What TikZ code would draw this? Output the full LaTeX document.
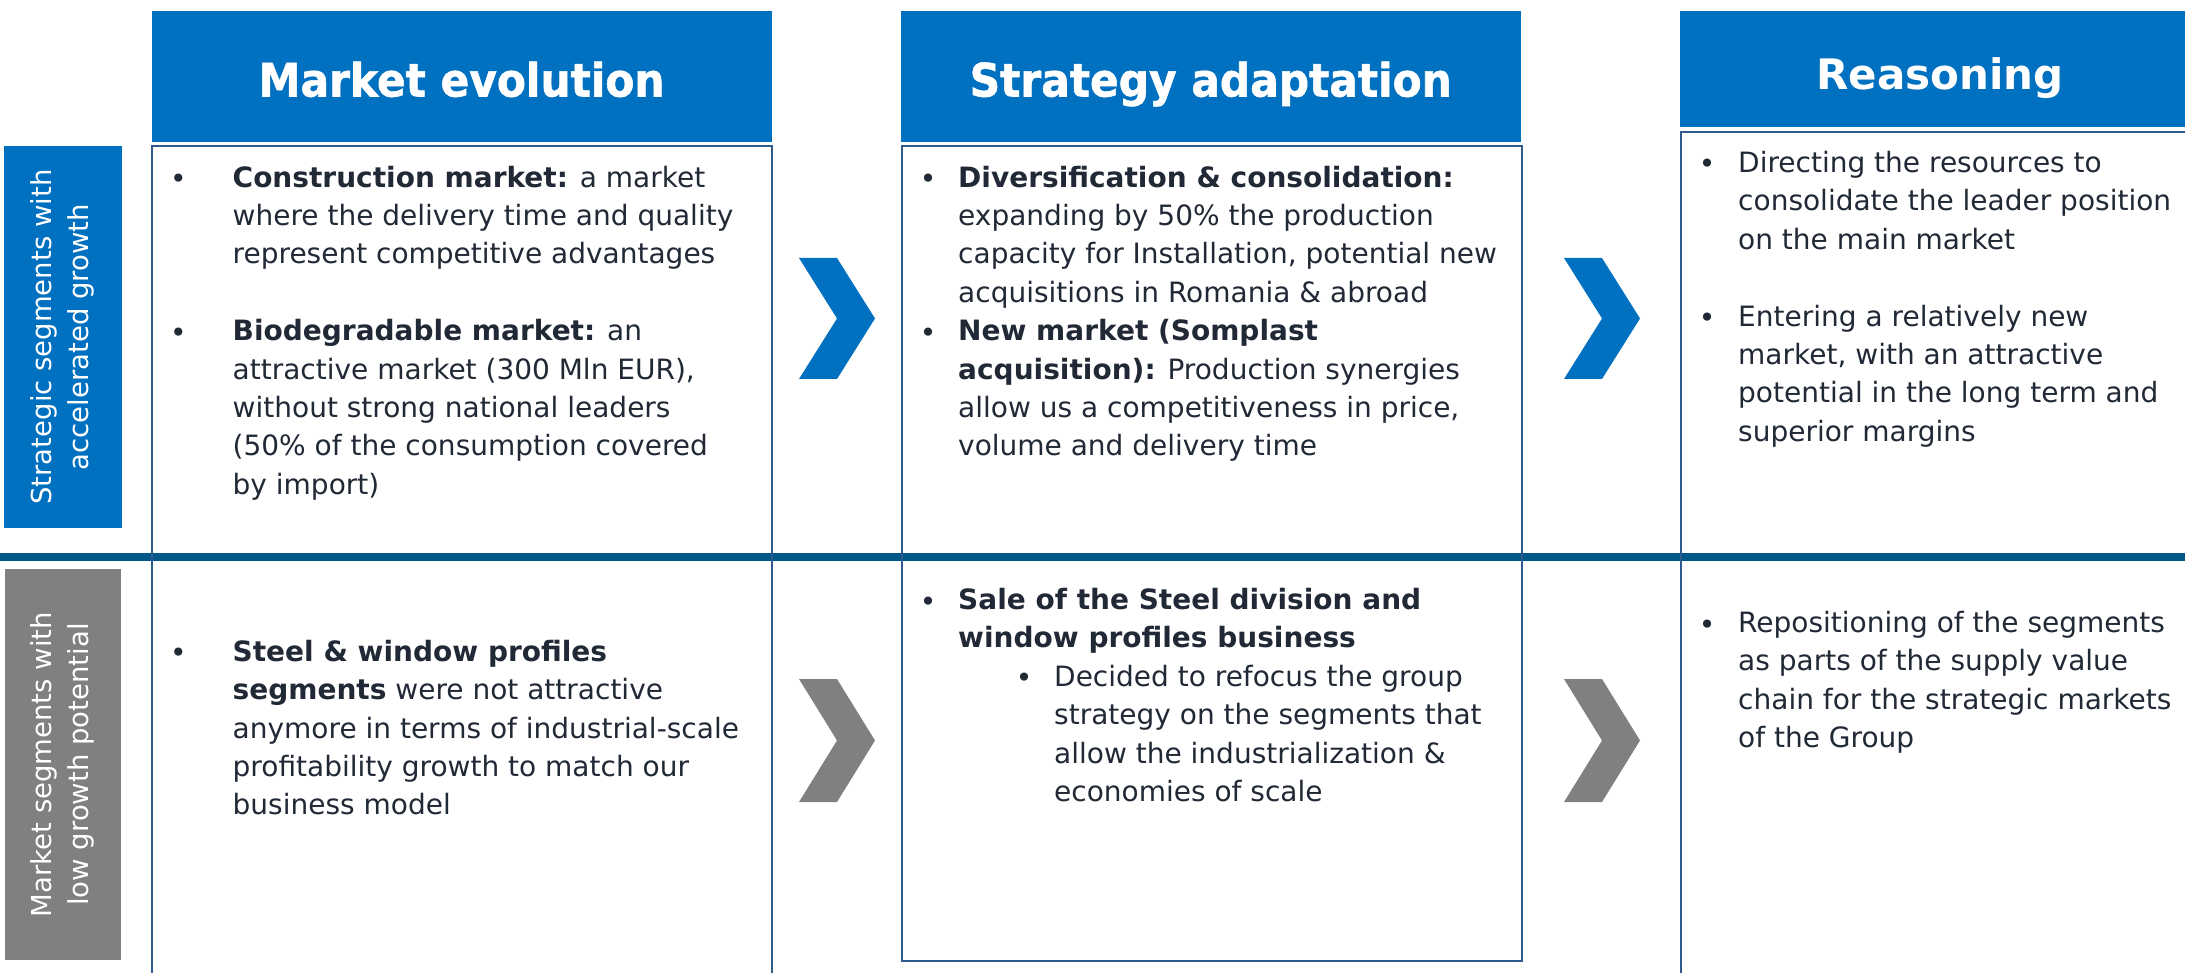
\documentclass[tikz,border=0pt]{standalone}
\usepackage{fontspec}
\setmainfont{DejaVu Sans}
\newfontfamily\headfont{DejaVu Sans}[FakeStretch=0.92, FakeBold=1.2]
\usetikzlibrary{positioning}
\definecolor{headblue}{RGB}{0,112,192}
\definecolor{rulecol}{RGB}{0,88,138}
\definecolor{boxcol}{RGB}{47,90,140}
\definecolor{chevgray}{RGB}{128,128,128}
\definecolor{txt}{RGB}{33,41,54}

\begin{document}
\begin{tikzpicture}[x=1pt, y=-1pt,
    head/.style={fill=headblue, text=white, inner sep=0pt,
      font=\headfont\bfseries\fontsize{46}{50}\selectfont, text height=40pt, text depth=0pt},
    side/.style={rotate=90, text=white, align=center, inner sep=0pt,
      font=\fontsize{27.5}{37}\selectfont},
    para/.style={anchor=north west, yshift=17.9pt, inner sep=0pt, align=left, text=txt,
      font=\fontsize{28}{38.4}\selectfont, execute at begin node={\rule{0pt}{26.9pt}}},
    dot/.style={anchor=base, yshift=-5pt, inner sep=0pt, text=txt, font=\fontsize{28}{38.4}\selectfont},
    boxline/.style={draw=boxcol, line width=2pt}]
    \useasboundingbox (0,0) rectangle (2185,973);
    \fill[white] (0,0) rectangle (2185,973);

    % Row divider
    \fill[rulecol] (0,553) rectangle (2185,561);
    % Column boxes
    \draw[boxline] (151.5,146) rectangle (771.5,990);
    \draw[boxline] (902,146) rectangle (1521.5,961);
    \draw[boxline] (1681,132) rectangle (2200,990);

    % Headers
    \node[head, minimum width=620pt, minimum height=131pt] (h1) at (461.5,76.5) {Market evolution};
    \node[head, minimum width=619.5pt, minimum height=131pt] (h2) at (1210.75,76.5) {Strategy adaptation};
    \node[head, minimum width=520pt, minimum height=116pt, text height=42pt,
      font=\bfseries\fontsize{42}{46}\selectfont] (h3) at (1940,69) {Reasoning};

    % Row labels
    \node[side, fill=headblue, minimum width=382pt, minimum height=118pt] (lab1) at (62.5,337)
      {Strategic segments with\\accelerated growth};
    \node[side, fill=chevgray, minimum width=391pt, minimum height=116.5pt] (lab2) at (62.8,764.5)
      {Market segments with\\low growth potential};

    % Chevrons
    \foreach \cx in {799,1564}{
      \fill[headblue] (\cx,258) -- (\cx+38,258) -- (\cx+76,318.5) -- (\cx+38,379) -- (\cx,379) -- (\cx+38,318.5) -- cycle;
      \fill[chevgray] (\cx,679) -- (\cx+38,679) -- (\cx+76,740.5) -- (\cx+38,802) -- (\cx,802) -- (\cx+38,740.5) -- cycle;
    }

    % Market evolution
    \node[dot] (d1) at (178.5,183.5) {•};
    \node[para] (t1) at (232.5,183.5) {\textbf{Construction market:} a market\\where the delivery time and quality\\represent competitive advantages};
    \node[dot] (d2) at (178.5,337.1) {•};
    \node[para] (t2) at (232.5,337.1) {\textbf{Biodegradable market:} an\\attractive market (300 Mln EUR),\\without strong national leaders\\(50\% of the consumption covered\\by import)};
    \node[dot] (d3) at (178.5,657.7) {•};
    \node[para] (t3) at (232.5,657.7) {\textbf{Steel \& window profiles}\\\textbf{segments} were not attractive\\anymore in terms of industrial-scale\\profitability growth to match our\\business model};

    % Strategy adaptation
    \node[dot] (d4) at (928,183.5) {•};
    \node[para] (t4) at (958,183.5) {\textbf{Diversification \& consolidation:}\\expanding by 50\% the production\\capacity for Installation, potential new\\acquisitions in Romania \& abroad};
    \node[dot] (d5) at (928,337.1) {•};
    \node[para] (t5) at (958,337.1) {\textbf{New market (Somplast}\\\textbf{acquisition):} Production synergies\\allow us a competitiveness in price,\\volume and delivery time};
    \node[dot] (d6) at (928,606) {•};
    \node[para] (t6) at (958,606) {\textbf{Sale of the Steel division and}\\\textbf{window profiles business}};
    \node[dot] (d7) at (1024,682.8) {•};
    \node[para] (t7) at (1054,682.8) {Decided to refocus the group\\strategy on the segments that\\allow the industrialization \&\\economies of scale};

    % Reasoning
    \node[dot] (d8) at (1707,169) {•};
    \node[para] (t8) at (1738,169) {Directing the resources to\\consolidate the leader position\\on the main market};
    \node[dot] (d9) at (1707,322.6) {•};
    \node[para] (t9) at (1738,322.6) {Entering a relatively new\\market, with an attractive\\potential in the long term and\\superior margins};
    \node[dot] (d10) at (1707,629) {•};
    \node[para] (t10) at (1738,629) {Repositioning of the segments\\as parts of the supply value\\chain for the strategic markets\\of the Group};
\end{tikzpicture}
\end{document}
